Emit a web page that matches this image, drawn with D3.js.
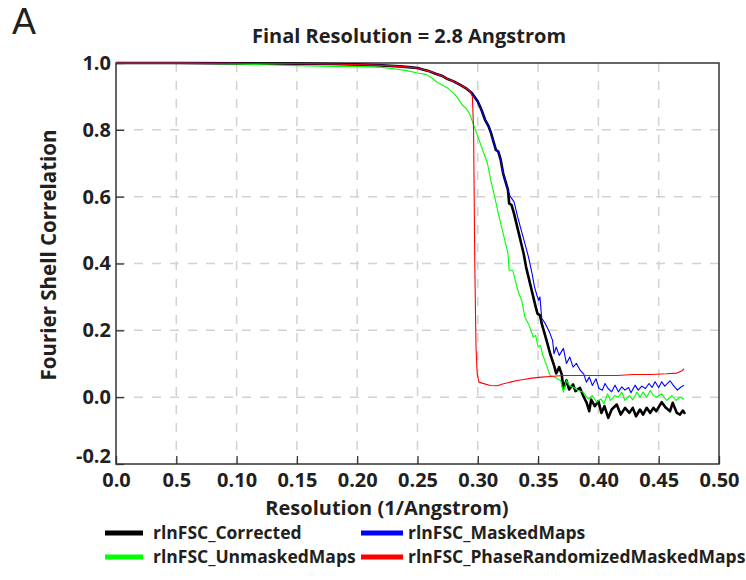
<!DOCTYPE html>
<html>
<head>
<meta charset="utf-8">
<script src="https://cdn.jsdelivr.net/npm/d3@7"></script>
<style>
  body { margin: 0; background: #fff; }
  text { font-family: "Open Sans", sans-serif; fill: #231f20; }
</style>
</head>
<body>
<div id="chart"></div>
<script>
// FSC curves (resolution in 1/Angstrom, FSC value)
const correctedRes = [0, 0.05, 0.10, 0.15, 0.18, 0.20, 0.22, 0.235, 0.245, 0.25, 0.255, 0.26, 0.265, 0.27, 0.275, 0.28, 0.285, 0.29, 0.295, 0.30, 0.303, 0.306, 0.309, 0.311, 0.313, 0.315, 0.317, 0.319, 0.321, 0.323, 0.325, 0.326, 0.328, 0.330, 0.332, 0.334, 0.336, 0.338, 0.340, 0.342, 0.344, 0.346, 0.348, 0.3495, 0.3516, 0.353, 0.357, 0.360, 0.3632, 0.365, 0.3675, 0.3696, 0.3709, 0.3735, 0.3757, 0.379, 0.381, 0.3847, 0.3875, 0.3903, 0.3924, 0.394, 0.397, 0.400, 0.4025, 0.405, 0.4082, 0.411, 0.4152, 0.4185, 0.4221, 0.4257, 0.4285, 0.4312, 0.4345, 0.437, 0.440, 0.443, 0.4456, 0.448, 0.4525, 0.456, 0.4594, 0.4616, 0.465, 0.4677, 0.470, 0.4719];
const correctedFsc = [1.0, 1.0, 0.999, 0.998, 0.997, 0.995, 0.993, 0.99, 0.987, 0.985, 0.98, 0.975, 0.968, 0.962, 0.952, 0.945, 0.935, 0.925, 0.91, 0.885, 0.86, 0.83, 0.81, 0.79, 0.765, 0.74, 0.735, 0.71, 0.67, 0.645, 0.62, 0.58, 0.575, 0.55, 0.52, 0.49, 0.46, 0.43, 0.39, 0.36, 0.33, 0.30, 0.27, 0.25, 0.245, 0.22, 0.17, 0.13, 0.095, 0.071, 0.09, 0.068, 0.026, 0.05, 0.023, 0.038, 0.018, 0.028, 0.003, -0.017, -0.042, -0.007, -0.027, -0.012, -0.047, -0.027, -0.062, -0.037, -0.022, -0.052, -0.032, -0.047, -0.032, -0.057, -0.037, -0.052, -0.032, -0.047, -0.032, -0.042, -0.015, -0.032, -0.042, -0.017, -0.047, -0.052, -0.04, -0.05];

const maskedRes = [0, 0.05, 0.10, 0.15, 0.18, 0.20, 0.22, 0.235, 0.245, 0.25, 0.255, 0.26, 0.265, 0.27, 0.275, 0.28, 0.285, 0.29, 0.295, 0.30, 0.303, 0.306, 0.309, 0.311, 0.313, 0.315, 0.317, 0.319, 0.321, 0.323, 0.325, 0.327, 0.330, 0.333, 0.336, 0.339, 0.342, 0.345, 0.347, 0.349, 0.3505, 0.3515, 0.353, 0.356, 0.3593, 0.362, 0.3632, 0.365, 0.3675, 0.371, 0.3735, 0.3763, 0.379, 0.3818, 0.385, 0.388, 0.390, 0.3925, 0.395, 0.398, 0.4005, 0.4033, 0.4055, 0.408, 0.411, 0.4138, 0.4166, 0.4194, 0.422, 0.425, 0.427, 0.4304, 0.433, 0.436, 0.439, 0.442, 0.4445, 0.447, 0.450, 0.4525, 0.455, 0.4594, 0.462, 0.4655, 0.468, 0.471];
const maskedFsc = [1.0, 1.0, 0.999, 0.998, 0.997, 0.995, 0.993, 0.99, 0.987, 0.985, 0.98, 0.975, 0.968, 0.962, 0.952, 0.945, 0.935, 0.925, 0.91, 0.885, 0.86, 0.83, 0.81, 0.79, 0.765, 0.74, 0.735, 0.71, 0.67, 0.645, 0.62, 0.60, 0.585, 0.54, 0.50, 0.46, 0.42, 0.37, 0.33, 0.305, 0.29, 0.30, 0.236, 0.22, 0.196, 0.17, 0.13, 0.15, 0.125, 0.146, 0.101, 0.12, 0.09, 0.101, 0.08, 0.068, 0.045, 0.06, 0.035, 0.055, 0.026, 0.021, 0.041, 0.026, 0.016, 0.036, 0.016, 0.031, 0.021, 0.029, 0.013, 0.036, 0.021, 0.033, 0.026, 0.041, 0.029, 0.046, 0.029, 0.046, 0.033, 0.049, 0.036, 0.021, 0.029, 0.036];

const unmaskedRes = [0, 0.05, 0.10, 0.13, 0.15, 0.18, 0.20, 0.22, 0.23, 0.24, 0.25, 0.257, 0.262, 0.266, 0.27, 0.275, 0.28, 0.283, 0.287, 0.29, 0.293, 0.296, 0.299, 0.302, 0.305, 0.308, 0.311, 0.314, 0.317, 0.320, 0.323, 0.325, 0.326, 0.329, 0.331, 0.334, 0.3364, 0.339, 0.342, 0.346, 0.348, 0.350, 0.352, 0.354, 0.357, 0.3599, 0.3627, 0.366, 0.3687, 0.371, 0.3735, 0.376, 0.380, 0.3832, 0.3875, 0.3903, 0.392, 0.395, 0.3985, 0.402, 0.4047, 0.4075, 0.410, 0.4138, 0.4166, 0.4194, 0.422, 0.4257, 0.4285, 0.432, 0.4345, 0.437, 0.440, 0.443, 0.4456, 0.448, 0.4525, 0.4566, 0.461, 0.4644, 0.4677, 0.471];
const unmaskedFsc = [1.0, 1.0, 0.997, 0.994, 0.992, 0.99, 0.99, 0.987, 0.983, 0.978, 0.97, 0.966, 0.955, 0.943, 0.935, 0.925, 0.91, 0.897, 0.875, 0.865, 0.85, 0.82, 0.79, 0.76, 0.73, 0.70, 0.645, 0.60, 0.55, 0.505, 0.46, 0.43, 0.38, 0.38, 0.35, 0.31, 0.29, 0.24, 0.22, 0.18, 0.185, 0.15, 0.155, 0.125, 0.095, 0.065, 0.062, 0.055, 0.05, 0.015, 0.05, 0.035, 0.028, 0.02, 0.015, 0.0, -0.005, 0.005, -0.015, -0.005, -0.02, 0.01, -0.01, 0.005, 0.0, 0.015, -0.01, 0.005, -0.008, 0.015, 0.0, 0.015, 0.0, 0.02, 0.005, 0.0, 0.01, -0.01, 0.005, -0.01, 0.0, -0.006];

const phaseRandRes = [0, 0.05, 0.10, 0.15, 0.18, 0.20, 0.22, 0.235, 0.245, 0.25, 0.255, 0.26, 0.265, 0.27, 0.275, 0.28, 0.285, 0.29, 0.293, 0.2955, 0.2965, 0.2975, 0.2985, 0.2995, 0.301, 0.3035, 0.3104, 0.316, 0.3214, 0.327, 0.3325, 0.338, 0.345, 0.353, 0.360, 0.371, 0.3875, 0.4015, 0.4152, 0.429, 0.443, 0.4566, 0.465, 0.469, 0.471];
const phaseRandFsc = [1.0, 1.0, 0.999, 0.998, 0.997, 0.995, 0.993, 0.99, 0.987, 0.985, 0.98, 0.975, 0.968, 0.962, 0.952, 0.945, 0.935, 0.925, 0.918, 0.90, 0.80, 0.40, 0.15, 0.07, 0.045, 0.042, 0.035, 0.034, 0.04, 0.045, 0.05, 0.053, 0.057, 0.06, 0.062, 0.065, 0.065, 0.065, 0.065, 0.068, 0.068, 0.07, 0.072, 0.078, 0.085];

const xTicks = [0, 0.05, 0.10, 0.15, 0.20, 0.25, 0.30, 0.35, 0.40, 0.45, 0.50];
const xTickLabels = ["0.0", "0.5", "0.10", "0.15", "0.20", "0.25", "0.30", "0.35", "0.40", "0.45", "0.50"];
const yTicks = [-0.2, 0.0, 0.2, 0.4, 0.6, 0.8, 1.0];
const yTickLabels = ["-0.2", "0.0", "0.2", "0.4", "0.6", "0.8", "1.0"];

const seriesNames = ["rlnFSC_Corrected", "rlnFSC_MaskedMaps", "rlnFSC_UnmaskedMaps", "rlnFSC_PhaseRandomizedMaskedMaps"];
const seriesColors = ["#000000", "#0000ff", "#00ff00", "#ff0000"];

const width = 746;
const height = 580;
const margin = {top: 63, right: 27, bottom: 116, left: 116};
const innerW = width - margin.left - margin.right;
const innerH = height - margin.top - margin.bottom;

const svg = d3.select("#chart")
  .append("svg")
  .attr("width", width)
  .attr("height", height);

svg.append("rect").attr("width", width).attr("height", height).attr("fill", "#fff");

const x = d3.scaleLinear().domain([0, 0.5]).range([0, innerW]);
const y = d3.scaleLinear().domain([-0.2, 1.0]).range([innerH, 0]);

const g = svg.append("g").attr("transform", `translate(${margin.left},${margin.top})`);

// dashed grid, inner lines only
g.append("g").selectAll("line")
  .data(xTicks.slice(1, -1))
  .join("line")
  .attr("x1", d => x(d)).attr("x2", d => x(d))
  .attr("y1", 0).attr("y2", innerH)
  .attr("stroke", "#d2d2d2")
  .attr("stroke-width", 1.5)
  .attr("stroke-dasharray", "9,9");

g.append("g").selectAll("line")
  .data(yTicks.slice(1, -1))
  .join("line")
  .attr("x1", 0).attr("x2", innerW)
  .attr("y1", d => y(d)).attr("y2", d => y(d))
  .attr("stroke", "#d2d2d2")
  .attr("stroke-width", 1.5)
  .attr("stroke-dasharray", "9,9");

// axes with inward ticks
const xAxis = d3.axisBottom(x)
  .tickValues(xTicks)
  .tickFormat((d, i) => xTickLabels[i])
  .tickSizeInner(-8)
  .tickSizeOuter(0)
  .tickPadding(9);

const yAxis = d3.axisLeft(y)
  .tickValues(yTicks)
  .tickFormat((d, i) => yTickLabels[i])
  .tickSizeInner(-8)
  .tickSizeOuter(0)
  .tickPadding(5);

const gx = g.append("g").attr("transform", `translate(0,${innerH})`).call(xAxis);
const gy = g.append("g").call(yAxis);

[gx, gy].forEach(a => {
  a.select(".domain").remove();
  a.selectAll(".tick line").attr("stroke", "#333").attr("stroke-width", 1.3);
  a.selectAll(".tick text")
    .style("font-family", "'Open Sans', sans-serif")
    .style("font-weight", "700")
    .style("font-size", "20px")
    .attr("fill", "#231f20");
});

// the bottom y label sits a little above its tick, clear of the x labels
gy.selectAll(".tick text").filter(d => d === -0.2).attr("y", -8);

// frame
g.append("rect")
  .attr("width", innerW).attr("height", innerH)
  .attr("fill", "none")
  .attr("stroke", "#333")
  .attr("stroke-width", 1.5);

// curves
const line = d3.line().x(d => x(d[0])).y(d => y(d[1]));
const curves = [
  {res: correctedRes, fsc: correctedFsc, color: seriesColors[0], w: 2.6},
  {res: unmaskedRes, fsc: unmaskedFsc, color: seriesColors[2], w: 1.1},
  {res: maskedRes, fsc: maskedFsc, color: seriesColors[1], w: 1.1},
  {res: phaseRandRes, fsc: phaseRandFsc, color: seriesColors[3], w: 1.1}
];

curves.forEach(c => {
  g.append("path")
    .datum(d3.zip(c.res, c.fsc))
    .attr("fill", "none")
    .attr("stroke", c.color)
    .attr("stroke-width", c.w)
    .attr("stroke-linejoin", "round")
    .attr("d", line);
});

// titles
svg.append("text")
  .attr("x", 12).attr("y", 34)
  .style("font-family", "'Liberation Sans', sans-serif")
  .style("font-size", "36px")
  .text("A");

svg.append("text")
  .attr("x", 409).attr("y", 43)
  .attr("text-anchor", "middle")
  .style("font-size", "20px").style("font-weight", "700")
  .text("Final Resolution = 2.8 Angstrom");

svg.append("text")
  .attr("x", 387).attr("y", 515)
  .attr("text-anchor", "middle")
  .style("font-size", "20px").style("font-weight", "700")
  .text("Resolution (1/Angstrom)");

svg.append("text")
  .attr("transform", "translate(56,255) rotate(-90)")
  .attr("text-anchor", "middle")
  .style("font-size", "20.5px").style("font-weight", "700")
  .text("Fourier Shell Correlation");

// legend, two columns
const legendPos = [
  {x: 105, y: 533},
  {x: 361, y: 533},
  {x: 105, y: 557},
  {x: 361, y: 557}
];
const legendSwatch = [38, 42, 38, 42];

const legend = svg.append("g");
seriesNames.forEach((name, i) => {
  const p = legendPos[i];
  legend.append("line")
    .attr("x1", p.x).attr("x2", p.x + legendSwatch[i])
    .attr("y1", p.y).attr("y2", p.y)
    .attr("stroke", seriesColors[i])
    .attr("stroke-width", 5);
  legend.append("text")
    .attr("x", p.x + legendSwatch[i] + (i % 2 === 0 ? 10 : 5))
    .attr("y", p.y + 6)
    .style("font-size", "17.5px").style("font-weight", "700")
    .text(name);
});
</script>
</body>
</html>
